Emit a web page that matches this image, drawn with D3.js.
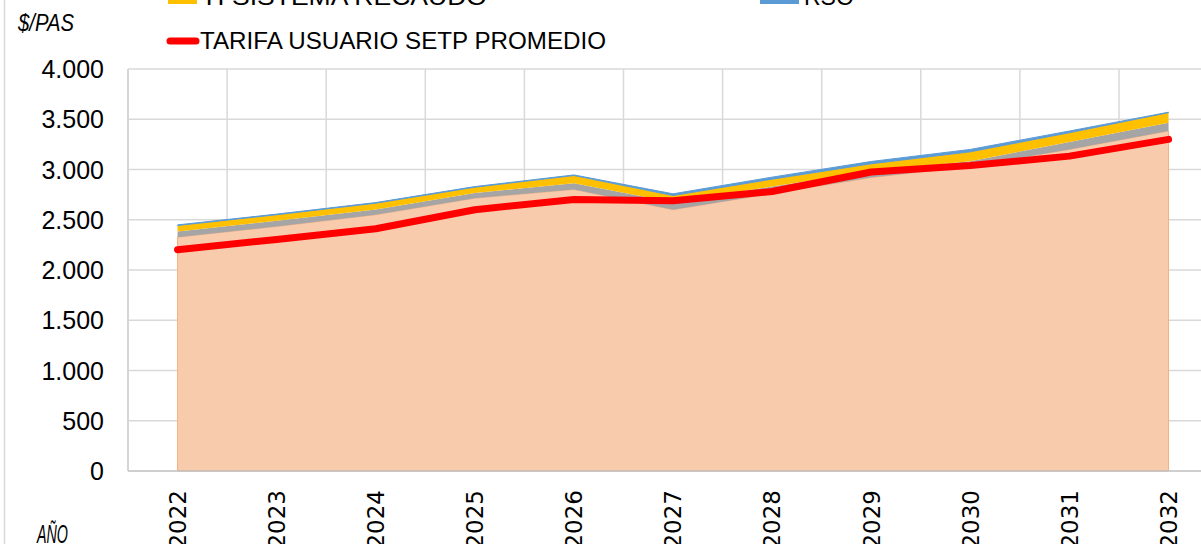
<!DOCTYPE html>
<html>
<head>
<meta charset="utf-8">
<script src="https://cdn.jsdelivr.net/npm/d3@7"></script>
<style>
  body { margin: 0; background: #fff; }
  svg { display: block; }
  text { fill: #000; }
</style>
</head>
<body>
<script>
let years = ['2022','2023','2024','2025','2026','2027','2028','2029','2030','2031','2032'];
let baseVals   = [2327, 2433, 2550, 2715, 2801, 2600, 2760, 2920, 3030, 3200, 3383];
let grayVals   = [57, 57, 52, 50, 63, 75, 70, 62, 53, 73, 83];
let recaudo    = [59, 60, 63, 59, 76, 66, 74, 75, 93, 93, 100];
let rso        = [6, 6, 6, 6, 6, 17, 20, 23, 24, 17, 4];
let tarifa     = [2202, 2304, 2410, 2600, 2702, 2689, 2781, 2975, 3040, 3133, 3300];
let yTicks     = [0, 500, 1000, 1500, 2000, 2500, 3000, 3500, 4000];

let width = 1201, height = 544;
let plotLeft = 128, band = 99.1;

let svg = d3.select('body')
  .append('svg')
  .attr('width', width)
  .attr('height', height);

// outer chart border (only left edge is visible)
svg.append('line')
  .attr('x1', 4.5).attr('x2', 4.5)
  .attr('y1', 0).attr('y2', height)
  .attr('stroke', '#d9d9d9')
  .attr('stroke-width', 1.5);

let x = d3.scaleBand()
  .domain(years)
  .range([plotLeft, plotLeft + band * years.length]);

let y = d3.scaleLinear()
  .domain([0, 4000])
  .range([471, 69]);

let cx = function(d) { return x(d) + x.bandwidth() / 2; };

// gridlines
svg.append('g')
  .selectAll('line')
  .data(yTicks.slice(1))
  .join('line')
  .attr('x1', plotLeft).attr('x2', width)
  .attr('y1', function(d) { return y(d); })
  .attr('y2', function(d) { return y(d); })
  .attr('stroke', '#d9d9d9')
  .attr('stroke-width', 1.5);

svg.append('g')
  .selectAll('line')
  .data(years)
  .join('line')
  .attr('x1', function(d) { return x(d); })
  .attr('x2', function(d) { return x(d); })
  .attr('y1', y(4000)).attr('y2', y(0))
  .attr('stroke', '#d9d9d9')
  .attr('stroke-width', 1.5);

// stacked areas
let rows = years.map(function(yr, i) {
  return { year: yr, base: baseVals[i], gray: grayVals[i], recaudo: recaudo[i], rso: rso[i] };
});
let keys = ['base', 'gray', 'recaudo', 'rso'];
let fills = { base: '#f8cbad', gray: '#a5a5a5', recaudo: '#ffc000', rso: '#5b9bd5' };
let stacked = d3.stack().keys(keys)(rows);

let area = d3.area()
  .x(function(d) { return cx(d.data.year); })
  .y0(function(d) { return y(d[0]); })
  .y1(function(d) { return y(d[1]); });

svg.append('g')
  .selectAll('path')
  .data(stacked)
  .join('path')
  .attr('d', area)
  .attr('fill', function(d) { return fills[d.key]; })
  .attr('stroke', function(d) { return d.key == 'base' ? '#f4b183' : (d.key == 'rso' ? '#5b9bd5' : 'none'); })
  .attr('stroke-width', 1);

// axis lines
svg.append('line')
  .attr('x1', plotLeft).attr('x2', width)
  .attr('y1', y(0)).attr('y2', y(0))
  .attr('stroke', '#bfbfbf').attr('stroke-width', 1.5);
svg.append('line')
  .attr('x1', plotLeft).attr('x2', plotLeft)
  .attr('y1', y(4000)).attr('y2', y(0))
  .attr('stroke', '#d0d0d0').attr('stroke-width', 1.5);

// tarifa line
let line = d3.line()
  .x(function(d, i) { return cx(years[i]); })
  .y(function(d) { return y(d); });

svg.append('path')
  .datum(tarifa)
  .attr('d', line)
  .attr('fill', 'none')
  .attr('stroke', '#ff0000')
  .attr('stroke-width', 7)
  .attr('stroke-linecap', 'round')
  .attr('stroke-linejoin', 'round');

// y tick labels
let fmt = function(d) { return d3.format(',')(d).replace(/,/g, '.'); };
svg.append('g')
  .selectAll('text')
  .data(yTicks)
  .join('text')
  .attr('x', 104)
  .attr('y', function(d) { return y(d); })
  .attr('dy', '0.36em')
  .attr('text-anchor', 'end')
  .style('font-family', '"Liberation Sans Narrow", "Liberation Sans", sans-serif')
  .style('font-size', '25px')
  .text(fmt);

// x tick labels
svg.append('g')
  .selectAll('text')
  .data(years)
  .join('text')
  .attr('transform', function(d) { return 'translate(' + cx(d) + ',490) rotate(-90)'; })
  .attr('dy', '0.36em')
  .attr('text-anchor', 'end')
  .style('font-family', '"DejaVu Sans", sans-serif')
  .style('font-size', '23px')
  .text(function(d) { return d; });

// axis titles
svg.append('text')
  .attr('x', 18).attr('y', 31)
  .attr('textLength', 56).attr('lengthAdjust', 'spacingAndGlyphs')
  .style('font-family', '"Liberation Sans Narrow", "Liberation Sans", sans-serif')
  .style('font-style', 'italic')
  .style('font-size', '24px')
  .text('$/PAS');

svg.append('text')
  .attr('x', 37).attr('y', 543)
  .attr('textLength', 31).attr('lengthAdjust', 'spacingAndGlyphs')
  .style('font-family', '"Liberation Sans Narrow", "Liberation Sans", sans-serif')
  .style('font-style', 'italic')
  .style('font-size', '25px')
  .text('AÑO');

// legend (top row cut off)
let legendFont = '"Liberation Sans Narrow", "Liberation Sans", sans-serif';
svg.append('rect')
  .attr('x', 168).attr('y', -6).attr('width', 29).attr('height', 10)
  .attr('fill', '#ffc000');
svg.append('text')
  .attr('x', 201).attr('y', 5)
  .attr('textLength', 286).attr('lengthAdjust', 'spacingAndGlyphs')
  .style('font-family', legendFont).style('font-size', '23px')
  .text('TI SISTEMA RECAUDO');

svg.append('rect')
  .attr('x', 760).attr('y', -6).attr('width', 39).attr('height', 10)
  .attr('fill', '#5b9bd5');
svg.append('text')
  .attr('x', 804).attr('y', 5)
  .style('font-family', legendFont).style('font-size', '23px')
  .text('RSO');

svg.append('line')
  .attr('x1', 170).attr('x2', 196)
  .attr('y1', 41).attr('y2', 41)
  .attr('stroke', '#ff0000').attr('stroke-width', 7)
  .attr('stroke-linecap', 'round');
svg.append('text')
  .attr('x', 200).attr('y', 49)
  .attr('textLength', 406).attr('lengthAdjust', 'spacingAndGlyphs')
  .style('font-family', legendFont).style('font-size', '23px')
  .text('TARIFA USUARIO SETP PROMEDIO');
</script>
</body>
</html>
